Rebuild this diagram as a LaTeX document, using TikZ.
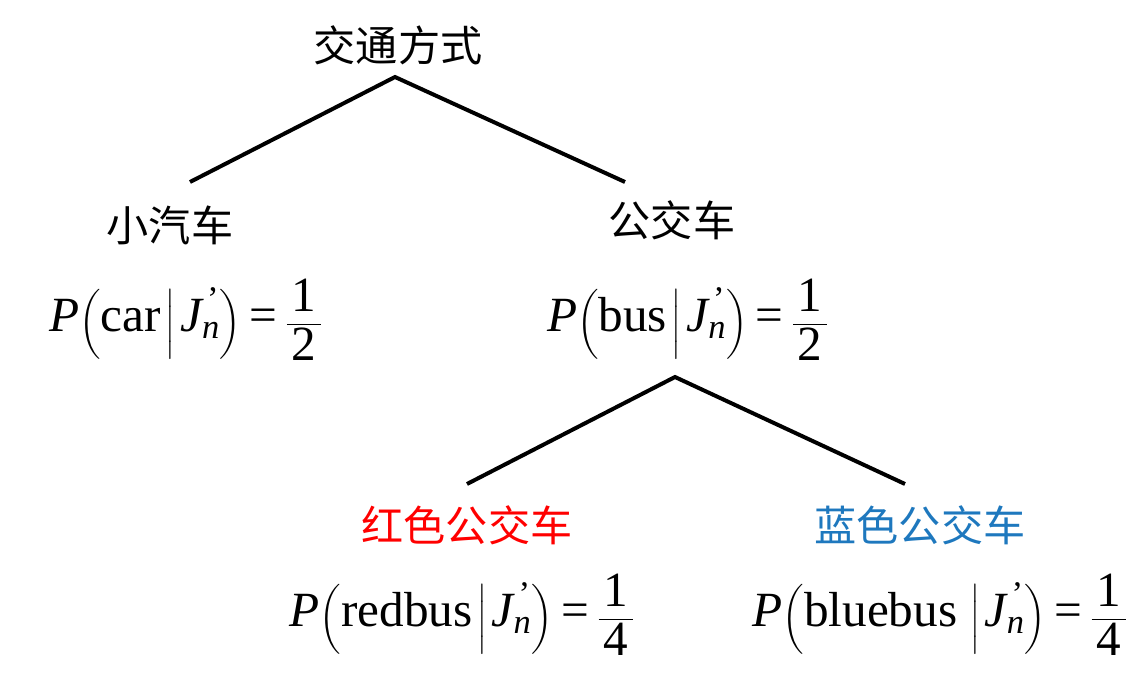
\documentclass[tikz,border=0pt]{standalone}
\usepackage{amsmath}
\usepackage{fontspec}
\setmainfont{Liberation Serif}
\newfontfamily\cjk{Noto Sans CJK SC}
\definecolor{bluebus}{RGB}{30,120,190}
\newcommand{\prob}[2]{\textit{P}$\left(\text{#1}\,\middle|\,\textit{J}^{\,\text{'}}_{\textit{n}}\right)$\,=\,$\dfrac{\,\text{1}\,}{\,\text{#2}\,}$}
\begin{document}
\begin{tikzpicture}[x=0.03cm,y=-0.03cm,
  cn/.style={font=\cjk\fontsize{36}{40}\selectfont,inner sep=0pt},
  fm/.style={font=\fontsize{42}{46}\selectfont,inner sep=0pt},
  ln/.style={line width=3.4pt}]
\useasboundingbox (0,0) rectangle (1135,680);
\node[cn] (root) at (398,45) {交通方式};
\node[cn] (car) at (170,225) {小汽车};
\node[fm] (carp) at (186,320) {\prob{car}{2}};
\node[cn] (bus) at (672,220) {公交车};
\node[fm] (busp) at (688,320) {\prob{bus}{2}};
\node[cn,text=red] (red) at (467,525) {红色公交车};
\node[fm] (redp) at (462,615) {\prob{redbus}{4}};
\node[cn,text=bluebus] (blue) at (920,525) {蓝色公交车};
\node[fm] (bluep) at (940,615) {\prob{bluebus\,}{4}};
\coordinate (r0) at (395,77);
\coordinate (r1) at (190,182);
\coordinate (r2) at (625,182);
\coordinate (b0) at (675,377);
\coordinate (b1) at (467,484);
\coordinate (b2) at (905,484);
\draw[ln] (r1) -- (r0) -- (r2);
\draw[ln] (b1) -- (b0) -- (b2);
\end{tikzpicture}
\end{document}
